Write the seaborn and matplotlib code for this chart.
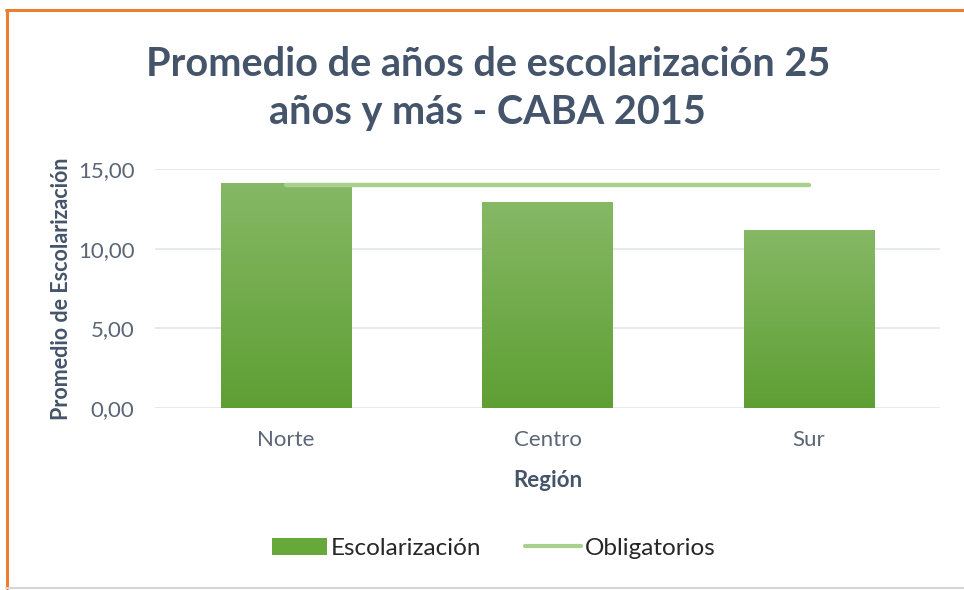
import matplotlib
matplotlib.use("Agg")
import matplotlib.pyplot as plt
from matplotlib.lines import Line2D
from matplotlib.patches import Patch
from matplotlib.colors import LinearSegmentedColormap
import seaborn as sns
import numpy as np

# datos
regiones = ["Norte", "Centro", "Sur"]
escolarizacion = [14.1, 12.9, 11.2]
obligatorios = [14.0, 14.0, 14.0]
ticks_y = [0, 5, 10, 15]
etiquetas_y = ["0,00", "5,00", "10,00", "15,00"]

sns.set_theme(style="white")
plt.rcParams['font.family'] = ['Lato', 'DejaVu Sans']

fig = plt.figure(figsize=(9.64, 5.90), dpi=100)
ax = fig.add_axes([0.161, 0.3085, 0.814, 0.405])

sns.barplot(x=regiones, y=escolarizacion, ax=ax, width=0.5, color="#70AD47",
            saturation=1, edgecolor="none")

# degradado vertical en cada barra (estilo Excel)
verdes = LinearSegmentedColormap.from_list("verdes", ["#5E9F33", "#86B865"])
grad = np.linspace(0, 1, 256).reshape(-1, 1)
for p in ax.patches:
    x0, y0 = p.get_x(), p.get_y()
    w, h = p.get_width(), p.get_height()
    p.set_facecolor("none")
    im = ax.imshow(grad, cmap=verdes, origin="lower", aspect="auto",
                   extent=[x0, x0 + w, y0, y0 + h], zorder=2)
    im.set_clip_path(p)

ax.plot(np.arange(len(regiones)), obligatorios, color="#A9D18E", lw=3.2,
        solid_capstyle="round", zorder=3)

ax.set_xlim(-0.5, 2.5)
ax.set_ylim(0, 15)
ax.set_yticks(ticks_y)
ax.set_yticklabels(etiquetas_y)
ax.yaxis.grid(True, color="#E3E6EA", lw=1.2)
ax.set_axisbelow(True)
for s in ax.spines.values():
    s.set_visible(False)
ax.tick_params(axis="both", length=0, labelsize=16, colors="#5B6575")
ax.tick_params(axis="y", pad=15)
ax.tick_params(axis="x", pad=16)

ax.set_xlabel("Región", fontsize=16, fontweight="bold", color="#44546A", labelpad=14)
ax.set_ylabel("Promedio de Escolarización", fontsize=15.5, fontweight="bold",
              color="#44546A", labelpad=4)

fig.text(0.506, 0.85, "Promedio de años de escolarización 25\naños y más - CABA 2015",
         ha="center", va="center", fontsize=28.5, fontweight="bold", color="#44546A",
         linespacing=1.38)

handles = [Patch(facecolor="#66A83A", edgecolor="none", label="Escolarización"),
           Line2D([0], [0], color="#A9D18E", lw=3, label="Obligatorios")]
fig.legend(handles=handles, loc="center", bbox_to_anchor=(0.512, 0.071), ncol=2,
           frameon=False, fontsize=17.5, handlelength=2.3, handleheight=0.7,
           handletextpad=0.15, columnspacing=1.8, labelcolor="#262626")

# marco del grafico
fig.add_artist(Line2D([6 / 964, 1], [1 - 9.5 / 590] * 2, color="#ED7D31", lw=2.2))
fig.add_artist(Line2D([6.5 / 964] * 2, [1 - 9.5 / 590, 1 - 588 / 590], color="#ED7D31", lw=2.2))
fig.add_artist(Line2D([6 / 964, 1], [1 - 588 / 590] * 2, color="#D6D6D6", lw=1.5))

fig.savefig("out.png", dpi=100)
